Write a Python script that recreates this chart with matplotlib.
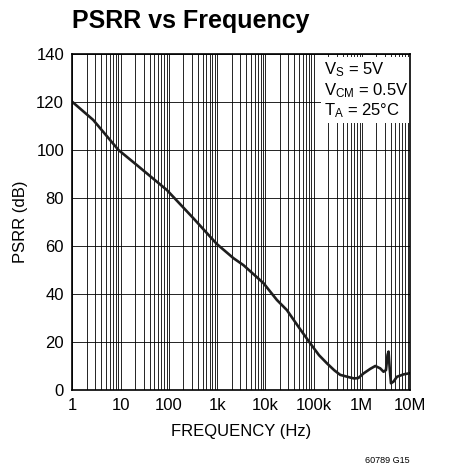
import matplotlib
matplotlib.use('Agg')
import matplotlib.pyplot as plt
from matplotlib.ticker import FixedLocator, LogLocator, NullFormatter

FONT = ['Liberation Sans Narrow', 'Liberation Sans', 'DejaVu Sans']
plt.rcParams['font.family'] = FONT

# PSRR curve
freq_hz = [1, 2.7, 9, 21.7, 91, 324, 990, 2190, 3530, 9180, 17.4e3, 28e3,
           50e3, 85e3, 130e3, 190e3, 270e3, 358e3, 575e3, 700e3, 850e3,
           1.09e6, 1.5e6, 1.91e6, 2.42e6, 2.83e6, 3.18e6, 3.43e6, 3.6e6,
           3.78e6, 4.04e6, 4.57e6, 5.37e6, 7.36e6, 10e6]
psrr_db = [120, 112.5, 100, 93.7, 83.3, 71.5, 60.8, 54.9, 52.0, 44.5, 37.5,
           33.3, 26.0, 19.5, 14.5, 11.1, 8.2, 6.3, 5.2, 4.8, 5.0,
           6.9, 8.8, 10.0, 9.0, 7.6, 8.3, 14.6, 16.0,
           9.7, 2.8, 3.5, 5.5, 6.5, 7.0]

x_ticks = [1, 10, 100, 1e3, 1e4, 1e5, 1e6, 1e7]
x_labels = ['1', '10', '100', '1k', '10k', '100k', '1M', '10M']
y_ticks = [0, 20, 40, 60, 80, 100, 120, 140]

fig = plt.figure(figsize=(4.5, 4.76), dpi=100)
ax = fig.add_axes([0.161, 0.1807, 0.75, 0.7059])

ax.semilogx(freq_hz, psrr_db, color='#1e1e1e', linewidth=1.9,
            solid_joinstyle='round', zorder=3)

ax.set_xlim(1, 1e7)
ax.set_ylim(0, 140)
ax.xaxis.set_major_locator(FixedLocator(x_ticks))
ax.xaxis.set_minor_locator(LogLocator(base=10, subs=range(2, 10), numticks=20))
ax.xaxis.set_minor_formatter(NullFormatter())
ax.set_xticks(x_ticks)
ax.set_xticklabels(x_labels)
ax.set_yticks(y_ticks)
ax.grid(which='both', axis='x', color='black', linewidth=0.6)
ax.grid(which='major', axis='y', color='black', linewidth=0.6)
ax.tick_params(which='both', length=0, labelsize=12, pad=6)
for s in ax.spines.values():
    s.set_linewidth(1.2)
    s.set_zorder(5)

ax.set_xlabel('FREQUENCY (Hz)', fontsize=12, labelpad=8)
ax.set_ylabel('PSRR (dB)', fontsize=12, labelpad=6)

fig.text(0.16, 0.955, 'PSRR vs Frequency', fontsize=18, fontweight='bold',
         va='center', ha='left')

ax.text(0.745, 0.982,
        '$\\mathregular{V_S}$ = 5V\n$\\mathregular{V_{CM}}$ = 0.5V\n'
        '$\\mathregular{T_A}$ = 25°C',
        transform=ax.transAxes, fontsize=12, va='top', ha='left',
        linespacing=1.15, zorder=4,
        bbox={'facecolor': 'white', 'edgecolor': 'none', 'pad': 2})

fig.text(0.91, 0.033, '60789 G15', fontsize=6.5, ha='right', va='center')

fig.savefig('out.png', dpi=100)
